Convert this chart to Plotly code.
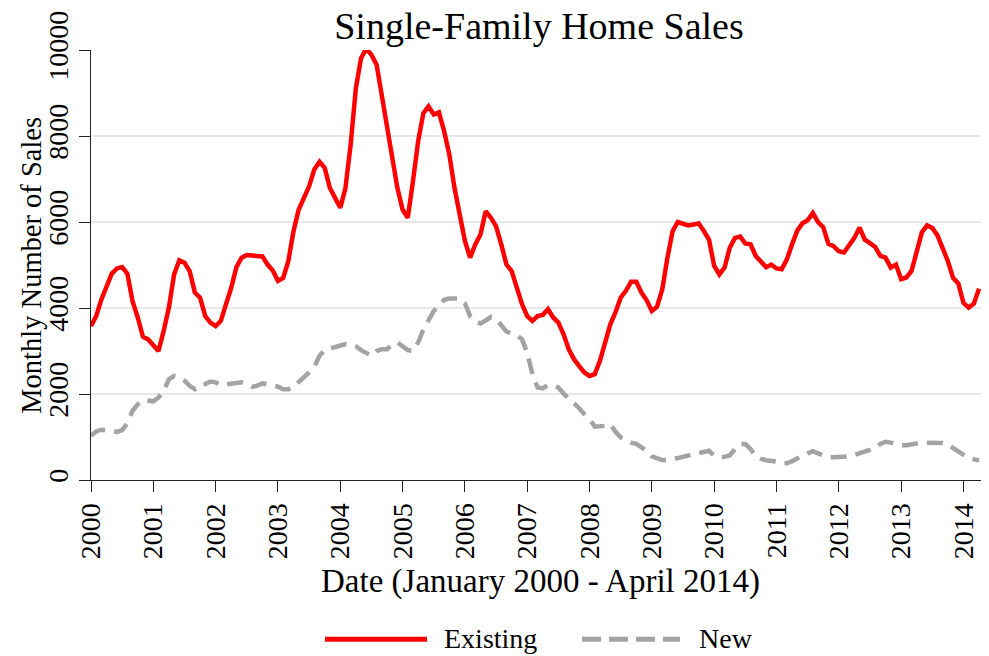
"""
Ventes mensuelles de maisons individuelles, existantes et neuves (2000-2014).
"""

import pandas as pd
import plotly.graph_objects as go

# valeurs mensuelles, janvier 2000 -> avril 2014
existing = [
    3580, 3810, 4200, 4510, 4800, 4920, 4950, 4800, 4160, 3780, 3330, 3270,
    3120, 3000, 3470, 4010, 4780, 5110, 5050, 4860, 4360, 4240, 3810, 3660,
    3580, 3700, 4090, 4470, 4950, 5170, 5230, 5220, 5220, 5200, 5010, 4870,
    4630, 4700, 5090, 5790, 6290, 6560, 6830, 7220, 7400, 7260, 6790, 6560,
    6330, 6790, 7800, 9110, 9810, 10030, 9890, 9660, 8960, 8110, 7490, 6790,
    6290, 6100, 6950, 7880, 8530, 8690, 8500, 8550, 8110, 7570, 6790, 6170,
    5560, 5170, 5480, 5710, 6250, 6100, 5900, 5480, 5010, 4860, 4430, 4090,
    3810, 3700, 3810, 3840, 3970, 3780, 3660, 3390, 3040, 2810, 2650, 2500,
    2420, 2460, 2770, 3230, 3620, 3900, 4240, 4400, 4610, 4610, 4360, 4180,
    3930, 4030, 4430, 5170, 5790, 6000, 5960, 5920, 5940, 5970, 5790, 5590,
    4980, 4780, 4940, 5400, 5630, 5660, 5500, 5480, 5210, 5070, 4950, 5010,
    4920, 4900, 5130, 5480, 5800, 5970, 6040, 6210, 6000, 5880, 5490, 5440,
    5320, 5290, 5450, 5630, 5870, 5590, 5510, 5420, 5210, 5170, 4940, 5010,
    4670, 4710, 4860, 5360, 5760, 5920, 5860, 5690, 5390, 5090, 4700, 4570,
    4120, 4010, 4100, 4450,
]

new = [
    1030, 1130, 1170, 1150, 1120, 1120, 1160, 1320, 1610, 1760, 1860, 1840,
    1830, 1920, 2070, 2340, 2420, 2380, 2310, 2190, 2110, 2210, 2230, 2290,
    2270, 2210, 2230, 2240, 2260, 2270, 2230, 2170, 2190, 2250, 2230, 2210,
    2170, 2110, 2110, 2170, 2270, 2400, 2500, 2630, 2890, 3020, 3060, 3100,
    3130, 3160, 3150, 3110, 3020, 2940, 2890, 3000, 3040, 3040, 3160, 3200,
    3120, 3020, 3000, 3200, 3500, 3740, 3930, 4050, 4190, 4220, 4220, 4220,
    4110, 3810, 3680, 3640, 3710, 3790, 3750, 3600, 3450, 3410, 3370, 3270,
    2960, 2460, 2150, 2130, 2210, 2190, 2150, 2010, 1900, 1760, 1670, 1530,
    1420, 1240, 1240, 1260, 1300, 1120, 990, 930, 870, 840, 760, 680,
    550, 500, 460, 470, 480, 510, 540, 570, 600, 630, 650, 680,
    570, 530, 540, 570, 720, 840, 840, 720, 550, 490, 460, 450,
    430, 390, 390, 440, 490, 560, 620, 670, 620, 570, 530, 530,
    530, 530, 550, 580, 620, 650, 700, 740, 840, 890, 870, 840,
    810, 810, 840, 850, 870, 870, 870, 870, 860, 820, 740, 640,
    590, 510, 480, 460,
]

years = list(range(2000, 2015))
y_ticks = [0, 2000, 4000, 6000, 8000, 10000]

dates = pd.date_range("2000-01-01", periods=len(existing), freq="MS")
x = dates.year + (dates.month - 1) / 12

FONT = "Liberation Serif"
RED = "#ff0000"
GREY = "#a3a3a3"

# la page html ajoute 8 px de marge au body : on compense
W, H, OFF = 981, 648, 8

fig = go.Figure()
fig.add_trace(
    go.Scatter(x=x, y=existing, mode="lines", name="Existing",
               line=dict(color=RED, width=4.5))
)
fig.add_trace(
    go.Scatter(x=x, y=new, mode="lines", name="New",
               line=dict(color=GREY, width=4.5, dash="16px,9px"))
)


# conversion pixels de la page -> coordonnées "paper"
def px_x(p):
    return (p - 91) / 898


def px_y(p):
    return (480.5 - p) / 430.5


# légende dessinée à la main (traits longs comme dans l'original)
fig.add_shape(type="line", xref="paper", yref="paper",
              x0=px_x(325), x1=px_x(427), y0=px_y(640), y1=px_y(640),
              line=dict(color=RED, width=5))
fig.add_shape(type="line", xref="paper", yref="paper",
              x0=px_x(582), x1=px_x(680), y0=px_y(640), y1=px_y(640),
              line=dict(color=GREY, width=5, dash="19px,8px"))
fig.add_annotation(text="Existing", xref="paper", yref="paper",
                   x=px_x(442), y=px_y(639), xanchor="left", yanchor="middle",
                   showarrow=False, font=dict(size=28))
fig.add_annotation(text="New", xref="paper", yref="paper",
                   x=px_x(697), y=px_y(639), xanchor="left", yanchor="middle",
                   showarrow=False, font=dict(size=28))

# titres des axes
fig.add_annotation(text="Date (January 2000 - April 2014)", xref="paper",
                   yref="paper", x=px_x(540), y=px_y(582), xanchor="center",
                   yanchor="middle", showarrow=False, font=dict(size=33))
fig.add_annotation(text="Monthly Number of Sales", xref="paper", yref="paper",
                   x=px_x(32), y=px_y(266), xanchor="center",
                   yanchor="middle", textangle=-90, showarrow=False,
                   font=dict(size=28.5))

fig.update_layout(
    width=W,
    height=H,
    margin=dict(l=91 - OFF, r=0, t=50 - OFF, b=H - (480.5 - OFF),
                autoexpand=False),
    paper_bgcolor="white",
    plot_bgcolor="white",
    showlegend=False,
    font=dict(family=FONT, size=28, color="black"),
    title=dict(text="Single-Family Home Sales", x=(539 - OFF) / W,
               xanchor="center", y=1 - (26 - OFF) / H, yanchor="middle",
               font=dict(size=38)),
    xaxis=dict(
        range=[2000, 2014.41],
        tickvals=years,
        ticktext=[str(v) for v in years],
        tickangle=-90,
        ticks="outside",
        ticklen=11,
        tickcolor="#222",
        showline=True,
        linecolor="#222",
        linewidth=1,
        showgrid=False,
        zeroline=False,
        automargin=False,
    ),
    yaxis=dict(
        range=[0, 10000],
        tickvals=y_ticks,
        ticktext=[str(v) for v in y_ticks],
        tickangle=-90,
        ticks="outside",
        ticklen=11,
        tickcolor="#222",
        showline=True,
        linecolor="#222",
        linewidth=1,
        showgrid=True,
        gridcolor="#e8e8e8",
        gridwidth=2,
        zeroline=False,
        automargin=False,
    ),
)

fig.write_html("out.html")
